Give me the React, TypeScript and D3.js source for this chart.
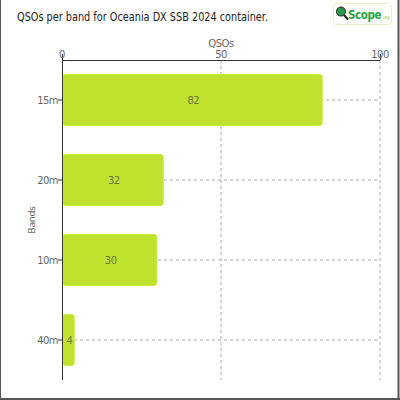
import React from "react";
import * as d3 from "d3";

const bands = ["15m", "20m", "10m", "40m"];
const qsos = [82, 32, 30, 4];
const xTicks = [0, 50, 100];
const title = "QSOs per band for Oceania DX SSB 2024 container.";

const W = 400, H = 400;
const M = { left: 62, right: 20, top: 60, bottom: 20 };
const FONT = "'DejaVu Sans', sans-serif";

export default function App() {
  const x = d3.scaleLinear().domain([0, 100]).range([M.left, W - M.right]);
  const y = d3.scaleBand().domain(bands).range([M.top, H - M.bottom]).paddingInner(0.36).paddingOuter(0.18);
  const yc = (b: string) => (y(b) as number) + y.bandwidth() / 2;
  return (
    <div style={{ position: "absolute", left: 0, top: 0 }}>
      <svg width={W} height={H} style={{ display: "block", background: "#fff" }} fontFamily={FONT}>
        <line x1={0.5} y1={0} x2={0.5} y2={H} stroke="#555" />
        <line x1={W - 1.5} y1={0} x2={W - 1.5} y2={H} stroke="#555" strokeWidth={2} />
        <line x1={0} y1={H - 1} x2={W} y2={H - 1} stroke="#555" strokeWidth={2} />
        <text x={17} y={21} fontSize={12} fill="#222" textLength={251} lengthAdjust="spacingAndGlyphs">{title}</text>
        {/* logo */}
        <g>
          <rect x={333.5} y={3.5} width={58} height={21} rx={3} fill="#fff" stroke="#e6efc8" />
          <circle cx={341} cy={11.5} r={4.5} fill="#2a9a4a" stroke="#222" strokeWidth={1} />
          <line x1={344} y1={15} x2={348} y2={19.5} stroke="#222" strokeWidth={2} />
          <text x={348} y={19} fontWeight="bold" fill="#27a33f" fontFamily="'DejaVu Sans Condensed', 'DejaVu Sans', sans-serif" letterSpacing={-0.4}>
            <tspan fontSize={11.5}>Scope</tspan>
            <tspan fontSize={5} fontWeight="normal" fill="#8cc63f" dx={1}>.org</tspan>
          </text>
        </g>
        {/* grid */}
        {xTicks.filter((t) => t > 0).map((t) => (
          <line key={t} x1={x(t)} x2={x(t)} y1={M.top} y2={H - M.bottom} stroke="#aaa" strokeDasharray="3,3" />
        ))}
        {bands.map((b) => (
          <line key={b} x1={M.left} x2={W - M.right} y1={yc(b)} y2={yc(b)} stroke="#aaa" strokeDasharray="3,3" />
        ))}
        {/* bars */}
        {bands.map((b, i) => (
          <g key={b}>
            <rect x={x(0) + 1} y={y(b)} width={x(qsos[i]) - x(0) - 1.5} height={y.bandwidth()} rx={3} fill="#bfe22f" stroke="#c9ea3e" strokeWidth={1} />
            <text x={(x(0) + x(qsos[i])) / 2 + 1} y={yc(b)} dy="0.35em" textAnchor="middle" fontSize={10} fill="#6a7a3a" letterSpacing={-0.5}>{qsos[i]}</text>
          </g>
        ))}
        {/* top axis */}
        <line x1={x(0)} x2={x(100)} y1={M.top + 0.5} y2={M.top + 0.5} stroke="#333" />
        {[0, 100].map((t) => (
          <line key={t} x1={x(t) + 0.5} x2={x(t) + 0.5} y1={M.top} y2={M.top - 6} stroke="#333" />
        ))}
        {xTicks.map((t) => (
          <text key={t} x={x(t)} y={57.5} textAnchor="middle" fontSize={10} fill="#666" letterSpacing={-0.5}>{t}</text>
        ))}
        <text x={(x(0) + x(100)) / 2} y={46.5} textAnchor="middle" fontSize={10} fill="#666" letterSpacing={-0.5}>QSOs</text>
        {/* left axis */}
        <line x1={M.left + 0.5} x2={M.left + 0.5} y1={M.top} y2={H - M.bottom} stroke="#333" />
        {bands.map((b) => (
          <g key={b}>
            <line x1={M.left - 4} x2={M.left} y1={yc(b)} y2={yc(b)} stroke="#333" />
            <text x={M.left - 4} y={yc(b)} dy="0.35em" textAnchor="end" fontSize={10} fill="#666" letterSpacing={-0.6}>{b}</text>
          </g>
        ))}
        <text transform={`translate(35,${(M.top + H - M.bottom) / 2}) rotate(-90)`} textAnchor="middle" fontSize={9.5} fill="#666" letterSpacing={-0.4}>Bands</text>
      </svg>
    </div>
  );
}
